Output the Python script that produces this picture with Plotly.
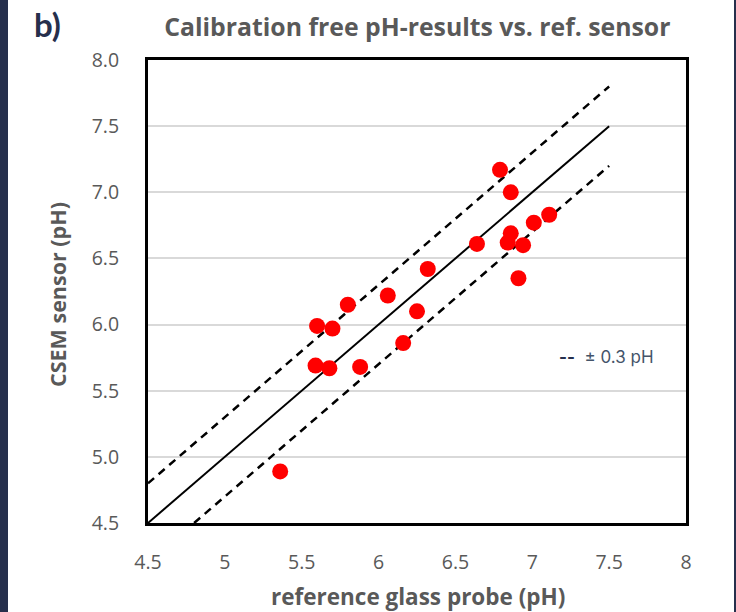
import plotly.graph_objects as go

# Data
ref_ph = [6.79, 6.86, 7.11, 7.01, 6.86, 6.84, 6.94, 6.64, 6.91, 6.32,
          6.06, 5.80, 6.25, 5.60, 5.70, 6.16, 5.59, 5.68, 5.88, 5.36]
csem_ph = [7.17, 7.00, 6.83, 6.77, 6.69, 6.62, 6.60, 6.61, 6.35, 6.42,
           6.22, 6.15, 6.10, 5.99, 5.97, 5.86, 5.69, 5.67, 5.68, 4.89]

ident_x = [4.5, 7.5]
ident_y = [4.5, 7.5]
upper_x = [4.5, 7.5]
upper_y = [4.8, 7.8]
lower_x = [4.8, 7.5]
lower_y = [4.5, 7.2]

x_ticks = [4.5, 5, 5.5, 6, 6.5, 7, 7.5, 8]
y_ticks = [4.5, 5.0, 5.5, 6.0, 6.5, 7.0, 7.5, 8.0]

grey = "#595959"
navy = "#262f4c"

W, H = 736, 612
ML, MR, MT, MB = 148, 50, 60, 89
PW, PH = W - ML - MR, H - MT - MB


def px_x(x):
    return (x - ML) / PW


def px_y(y):
    return (H - MB - y) / PH


fig = go.Figure()
fig.add_trace(go.Scatter(x=upper_x, y=upper_y, mode="lines",
                         line=dict(color="black", width=2.5, dash="8px,6px"),
                         showlegend=False, hoverinfo="skip"))
fig.add_trace(go.Scatter(x=lower_x, y=lower_y, mode="lines",
                         line=dict(color="black", width=2.5, dash="8px,6px"),
                         showlegend=False, hoverinfo="skip"))
fig.add_trace(go.Scatter(x=ident_x, y=ident_y, mode="lines",
                         line=dict(color="black", width=2),
                         showlegend=False, hoverinfo="skip"))
fig.add_trace(go.Scatter(x=ref_ph, y=csem_ph, mode="markers",
                         marker=dict(color="#ff0000", size=16),
                         showlegend=False))

fig.update_layout(
    width=W, height=H,
    margin=dict(l=ML, r=MR, t=MT, b=MB, autoexpand=False),
    paper_bgcolor="white", plot_bgcolor="white",
    font=dict(family="Open Sans", color=grey),
    title=dict(text="<b>Calibration free pH-results vs. ref. sensor</b>",
               x=0.567, xanchor="center", y=0.955, yanchor="middle",
               font=dict(size=24.8, color=grey, family="Open Sans")),
    xaxis=dict(range=[4.5, 8], tickvals=x_ticks,
               ticktext=[("%g" % v) for v in x_ticks],
               showgrid=False, zeroline=False, automargin=False,
               showline=True, linecolor="black", linewidth=3, mirror=True,
               ticks="", ticklabelstandoff=20,
               tickfont=dict(size=19.5, color=grey, family="Open Sans")),
    yaxis=dict(range=[4.5, 8], tickvals=y_ticks,
               ticktext=[("%.1f" % v) for v in y_ticks],
               showgrid=True, gridcolor="#d9d9d9", gridwidth=2,
               zeroline=False, automargin=False,
               showline=True, linecolor="black", linewidth=3, mirror=True,
               ticks="", ticklabelstandoff=22,
               tickfont=dict(size=19.5, color=grey, family="Open Sans")),
    shapes=[
        dict(type="rect", xref="paper", yref="paper", layer="above",
             x0=px_x(0), x1=px_x(8), y0=px_y(H), y1=px_y(0),
             fillcolor=navy, line=dict(width=0)),
        dict(type="rect", xref="paper", yref="paper", layer="above",
             x0=px_x(W - 2), x1=px_x(W), y0=px_y(H), y1=px_y(0),
             fillcolor=navy, line=dict(width=0)),
    ],
    annotations=[
        dict(text="<b>b)</b>", xref="paper", yref="paper",
             x=px_x(32), y=px_y(24), xanchor="left", yanchor="middle",
             showarrow=False, font=dict(size=33, color=navy, family="Lato")),
        dict(text="<b>reference glass probe (pH)</b>", xref="paper", yref="paper",
             x=px_x(418), y=px_y(596), xanchor="center", yanchor="middle",
             showarrow=False, font=dict(size=22.5, color=grey, family="Open Sans")),
        dict(text="<b>CSEM sensor (pH)</b>", xref="paper", yref="paper",
             x=px_x(57), y=px_y(295), xanchor="center", yanchor="middle",
             textangle=-90,
             showarrow=False, font=dict(size=21.5, color=grey, family="Open Sans")),
        dict(text="<span style='color:#262f4c'><b>--</b></span>  ± 0.3 pH",
             xref="paper", yref="paper", x=px_x(557), y=px_y(357),
             xanchor="left", yanchor="middle", showarrow=False,
             font=dict(size=17, color="#44546a", family="Inter")),
    ],
)

fig.write_html("out.html", config={"displayModeBar": False},
               post_script="document.body.style.margin='0';document.body.style.overflow='hidden';")
